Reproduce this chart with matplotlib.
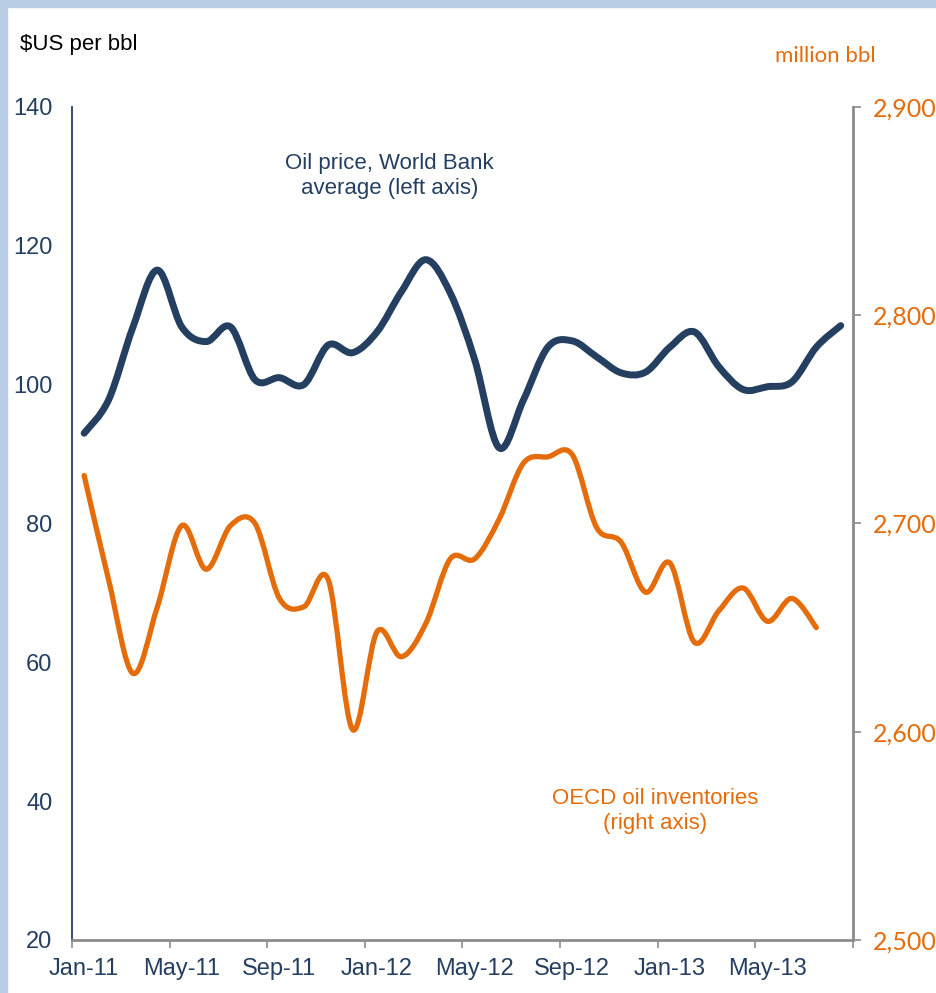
import matplotlib
matplotlib.use('Agg')
import matplotlib.pyplot as plt
from matplotlib.path import Path
from matplotlib.patches import PathPatch, Rectangle
import numpy as np

plt.rcParams['font.family'] = ['Liberation Sans', 'DejaVu Sans']

months = ['Jan-11', 'Feb-11', 'Mar-11', 'Apr-11', 'May-11', 'Jun-11', 'Jul-11', 'Aug-11',
          'Sep-11', 'Oct-11', 'Nov-11', 'Dec-11', 'Jan-12', 'Feb-12', 'Mar-12', 'Apr-12',
          'May-12', 'Jun-12', 'Jul-12', 'Aug-12', 'Sep-12', 'Oct-12', 'Nov-12', 'Dec-12',
          'Jan-13', 'Feb-13', 'Mar-13', 'Apr-13', 'May-13', 'Jun-13', 'Jul-13', 'Aug-13']

# $US per bbl, World Bank average
oil_price = [93.0, 97.8, 108.3, 116.5, 108.3, 106.2, 108.3, 100.7,
             101.0, 100.0, 105.7, 104.6, 107.6, 113.4, 118.0, 113.2,
             103.6, 90.9, 97.8, 105.4, 106.3, 104.0, 101.7, 101.8,
             105.4, 107.6, 102.6, 99.3, 99.7, 100.4, 105.4, 108.5]

# million bbl, OECD inventories (Jan-11 .. Jul-13)
inventories = [2723, 2673, 2628, 2660, 2699, 2678, 2699, 2700,
               2664, 2660, 2673, 2601, 2648, 2636, 2652, 2683,
               2683, 2702, 2729, 2732, 2733, 2698, 2691, 2667,
               2681, 2643, 2658, 2669, 2653, 2664, 2650]

tick_labels = ['Jan-11', 'May-11', 'Sep-11', 'Jan-12', 'May-12', 'Sep-12', 'Jan-13', 'May-13']

navy = '#243f60'
orange = '#e46c0a'
grey = '#8c8c8c'


def smooth_line(ax, x, y, color, lw):
    # Excel-style smoothed line: bezier segments through the data points
    x = np.asarray(x, float)
    y = np.asarray(y, float)
    pts = np.column_stack([x, y])
    verts = [pts[0]]
    codes = [Path.MOVETO]
    n = len(pts)
    for i in range(n - 1):
        p0 = pts[i - 1] if i > 0 else pts[i]
        p1 = pts[i]
        p2 = pts[i + 1]
        p3 = pts[i + 2] if i + 2 < n else pts[i + 1]
        verts += [p1 + (p2 - p0) / 6, p2 - (p3 - p1) / 6, p2]
        codes += [Path.CURVE4] * 3
    patch = PathPatch(Path(verts, codes), facecolor='none', edgecolor=color,
                      lw=lw, capstyle='round', joinstyle='round')
    ax.add_patch(patch)


fig = plt.figure(figsize=(9.37, 9.93), dpi=100)
fig.patches.append(Rectangle((0, 0.993), 1, 0.007, transform=fig.transFigure,
                             color='#b9cde5', zorder=0))
fig.patches.append(Rectangle((0, 0), 0.0075, 1, transform=fig.transFigure,
                             color='#b9cde5', zorder=0))

ax = fig.add_axes([0.0768, 0.0534, 0.8335, 0.8389])
ax2 = ax.twinx()

x = np.arange(len(months))
smooth_line(ax, x, oil_price, navy, 5)
smooth_line(ax2, x[:len(inventories)], inventories, orange, 3.8)

ax.set_xlim(-0.5, len(months) - 0.5)
ax.set_ylim(20, 140)
ax2.set_ylim(2500, 2900)

ax.set_xticks(np.arange(-0.5, len(months), 4))
ax.set_xticklabels([])
ax.set_xticks(np.arange(0, len(months), 4), minor=True)
ax.set_xticklabels(tick_labels, minor=True)
ax.tick_params(axis='x', which='major', length=6, width=1.2, color=grey, direction='out')
ax.tick_params(axis='x', which='minor', length=0, labelsize=17, labelcolor=navy, pad=13)

ax.set_yticks(np.arange(20, 141, 20))
ax.tick_params(axis='y', length=0, labelsize=17, labelcolor=navy, pad=14)

ax2.set_yticks(np.arange(2500, 2901, 100))
ax2.set_yticklabels([f'{v:,}' for v in range(2500, 2901, 100)],
                    family=['Lato', 'DejaVu Sans'])
ax2.tick_params(axis='y', length=6, width=1.2, color=grey, labelsize=18,
                labelcolor=orange, pad=8)

for a in (ax, ax2):
    a.spines['top'].set_visible(False)
ax.spines['right'].set_visible(False)
ax2.spines['left'].set_visible(False)
ax2.spines['bottom'].set_visible(False)
ax.spines['left'].set_color(navy)
ax.spines['left'].set_linewidth(1.3)
ax.spines['bottom'].set_color(grey)
ax.spines['bottom'].set_linewidth(2)
ax2.spines['right'].set_color(grey)
ax2.spines['right'].set_linewidth(2)

fig.text(0.021, 0.955, '$US per bbl', fontsize=16, color='black', va='center', ha='left')
fig.text(0.881, 0.944, 'million bbl', fontsize=16, color=orange, va='center', ha='center',
         family=['Lato', 'DejaVu Sans'])

ax.text(12.5, 130, 'Oil price, World Bank\naverage (left axis)', fontsize=16,
        color=navy, ha='center', va='center', linespacing=1.25)
ax2.text(23.4, 2562, 'OECD oil inventories\n(right axis)', fontsize=16,
         color=orange, ha='center', va='center', linespacing=1.25)

fig.savefig('out.png', dpi=100)
